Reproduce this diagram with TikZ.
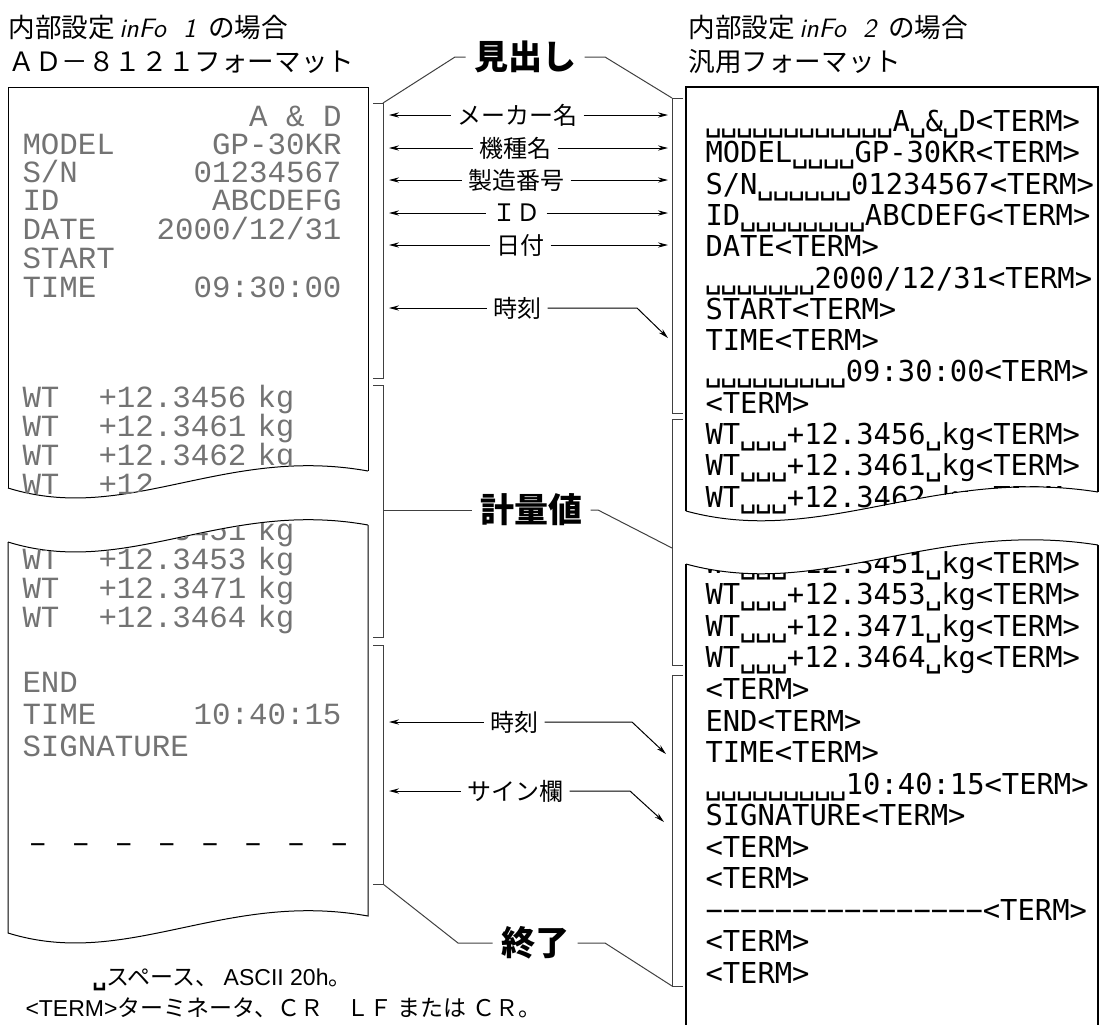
\documentclass[tikz,border=0pt]{standalone}
\usepackage{fontspec}
\newfontfamily\jp{Noto Sans CJK JP}
\newfontfamily\dotm{Liberation Mono}
\newfontfamily\gmono{DejaVu Sans Mono}
\newfontfamily\arial{Liberation Sans}
\usetikzlibrary{arrows.meta,positioning}
\newcommand\vs{\makebox[7.8pt]{\char"2423}}
\newcommand\dgap{\hspace{12.3pt}}

\begin{document}
\begin{tikzpicture}[>={Stealth[length=5pt,width=2.6pt]},x=0.5pt,y=-0.5pt,line width=0.5pt]
\tikzstyle{ttl}=[anchor=west,inner sep=0,font=\jp\fontsize{13.3}{16}\selectfont]
\tikzstyle{dot}=[inner sep=0,text=black!55,text height=9pt,text depth=0pt,font=\dotm\fontsize{15.4}{18}\selectfont]
\tikzstyle{row}=[anchor=west,inner sep=0,text height=10.5pt,text depth=0pt,font=\gmono\fontsize{14.4}{17}\selectfont]
\tikzstyle{lbl}=[inner sep=3pt,font=\jp\fontsize{12}{14}\selectfont]
\tikzstyle{big}=[inner sep=4pt,font=\jp\bfseries\fontsize{17}{20}\selectfont]
\tikzstyle{brk}=[draw=black!75]
\tikzstyle{edge}=[line width=1.2pt]

\useasboundingbox (0,0) rectangle (1103,1025);

\node[ttl] (lt1) at (8,27) {内部設定\,{\sffamily\itshape inFo\ \ 1}\ \ の場合};
\node[ttl] (lt2) at (8,62) {ＡＤ－８１２１フォーマット};
\node[ttl] (rt1) at (688,27) {内部設定\,{\sffamily\itshape inFo\ \ 2}\ \ の場合};
\node[ttl] (rt2) at (688,62) {汎用フォーマット};

% AD-8121 paper
\draw (8,488) -- (8,87) -- (368,87) -- (368,471);
\draw (8,488) .. controls (127,525) and (224,445) .. (368,471);
\draw (8,542) .. controls (127,579) and (224,499) .. (368,525);
\draw (8,542) -- (8,933) .. controls (127,970) and (224,890) .. (368,916) -- (368,525);

\begin{scope}
\clip (8,87) -- (368,87) -- (368,471) .. controls (224,445) and (127,525) .. (8,488) -- cycle;
\node[dot,anchor=east] (a1) at (342,117) {A \& D};
\node[dot,anchor=west] (a2) at (22,145) {MODEL};
\node[dot,anchor=east] (a2v) at (342,145) {GP-30KR};
\node[dot,anchor=west] (a3) at (22,173) {S/N};
\node[dot,anchor=east] (a3v) at (342,173) {01234567};
\node[dot,anchor=west] (a4) at (22,201) {ID};
\node[dot,anchor=east] (a4v) at (342,201) {ABCDEFG};
\node[dot,anchor=west] (a5) at (22,230) {DATE};
\node[dot,anchor=east] (a5v) at (342,230) {2000/12/31};
\node[dot,anchor=west] (a6) at (22,259) {START};
\node[dot,anchor=west] (a7) at (22,288) {TIME};
\node[dot,anchor=east] (a7v) at (342,288) {09:30:00};
\node[dot,anchor=west] (w1) at (22,398) {WT};
\node[dot,anchor=west] (w1v) at (98,398) {+12.3456};
\node[dot,anchor=west] (w1u) at (257,398) {kg};
\node[dot,anchor=west] (w2) at (22,427) {WT};
\node[dot,anchor=west] (w2v) at (98,427) {+12.3461};
\node[dot,anchor=west] (w2u) at (257,427) {kg};
\node[dot,anchor=west] (w3) at (22,456) {WT};
\node[dot,anchor=west] (w3v) at (98,456) {+12.3462};
\node[dot,anchor=west] (w3u) at (257,456) {kg};
\node[dot,anchor=west] (w4) at (22,485) {WT};
\node[dot,anchor=west] (w4v) at (98,485) {+12.};
\end{scope}

\begin{scope}
\clip (8,542) .. controls (127,579) and (224,499) .. (368,525) -- (368,916) .. controls (224,890) and (127,970) .. (8,933) -- cycle;
\node[dot,anchor=west] (w5) at (22,531) {WT};
\node[dot,anchor=west] (w5v) at (98,531) {+12.3451};
\node[dot,anchor=west] (w5u) at (257,531) {kg};
\node[dot,anchor=west] (w6) at (22,560) {WT};
\node[dot,anchor=west] (w6v) at (98,560) {+12.3453};
\node[dot,anchor=west] (w6u) at (257,560) {kg};
\node[dot,anchor=west] (w7) at (22,589) {WT};
\node[dot,anchor=west] (w7v) at (98,589) {+12.3471};
\node[dot,anchor=west] (w7u) at (257,589) {kg};
\node[dot,anchor=west] (w8) at (22,618) {WT};
\node[dot,anchor=west] (w8v) at (98,618) {+12.3464};
\node[dot,anchor=west] (w8u) at (257,618) {kg};
\node[dot,anchor=west] (e1) at (22,683) {END};
\node[dot,anchor=west] (e2) at (22,715) {TIME};
\node[dot,anchor=east] (e2v) at (342,715) {10:40:15};
\node[dot,anchor=west] (e3) at (22,747) {SIGNATURE};
\node[dot,anchor=west,text=black] (e4) at (28,843) {–\dgap–\dgap–\dgap–\dgap–\dgap–\dgap–\dgap–};
\end{scope}

% general format paper
\draw[edge] (686,511) -- (686,87) -- (1098,87) -- (1098,492);
\draw (686,511) .. controls (822,548) and (933,466) .. (1098,492);
\draw (686,564) .. controls (822,601) and (933,519) .. (1098,545);
\draw[edge] (686,564) -- (686,1025);
\draw[edge] (1098,545) -- (1098,1025);

\begin{scope}
\clip (686,87) -- (1098,87) -- (1098,492) .. controls (933,466) and (822,548) .. (686,511) -- cycle;
\node[row] (r1) at (705,121) {\vs\vs\vs\vs\vs\vs\vs\vs\vs\vs\vs\vs A\vs\&\vs D<TERM>};
\node[row] (r2) at (705,152) {MODEL\vs\vs\vs\vs GP-30KR<TERM>};
\node[row] (r3) at (705,184) {S/N\vs\vs\vs\vs\vs\vs 01234567<TERM>};
\node[row] (r4) at (705,215) {ID\vs\vs\vs\vs\vs\vs\vs\vs ABCDEFG<TERM>};
\node[row] (r5) at (705,246) {DATE<TERM>};
\node[row] (r6) at (705,278) {\vs\vs\vs\vs\vs\vs\vs 2000/12/31<TERM>};
\node[row] (r7) at (705,309) {START<TERM>};
\node[row] (r8) at (705,340) {TIME<TERM>};
\node[row] (r9) at (705,371) {\vs\vs\vs\vs\vs\vs\vs\vs\vs 09:30:00<TERM>};
\node[row] (r10) at (705,403) {<TERM>};
\node[row] (r11) at (705,434) {WT\vs\vs\vs+12.3456\vs kg<TERM>};
\node[row] (r12) at (705,465) {WT\vs\vs\vs+12.3461\vs kg<TERM>};
\node[row] (r13) at (705,497) {WT\vs\vs\vs+12.3462\vs kg<TERM>};
\end{scope}

\begin{scope}
\clip (686,564) .. controls (822,601) and (933,519) .. (1098,545) -- (1098,1025) -- (686,1025) -- cycle;
\node[row] (s1) at (705,563) {WT\vs\vs\vs+12.3451\vs kg<TERM>};
\node[row] (s2) at (705,594) {WT\vs\vs\vs+12.3453\vs kg<TERM>};
\node[row] (s3) at (705,626) {WT\vs\vs\vs+12.3471\vs kg<TERM>};
\node[row] (s4) at (705,657) {WT\vs\vs\vs+12.3464\vs kg<TERM>};
\node[row] (s5) at (705,689) {<TERM>};
\node[row] (s6) at (705,721) {END<TERM>};
\node[row] (s7) at (705,752) {TIME<TERM>};
\node[row] (s8) at (705,784) {\vs\vs\vs\vs\vs\vs\vs\vs\vs 10:40:15<TERM>};
\node[row] (s9) at (705,815) {SIGNATURE<TERM>};
\node[row] (s10) at (705,847) {<TERM>};
\node[row] (s11) at (705,878) {<TERM>};
\node[row] (s12) at (705,910) {−−−−−−−−−−−−−−−−<TERM>};
\node[row] (s13) at (705,941) {<TERM>};
\node[row] (s14) at (705,973) {<TERM>};
\end{scope}

% brackets
\draw[brk] (373,103) -- (383,103) -- (383,378) -- (373,378);
\draw[brk] (373,385) -- (383,385) -- (383,637) -- (373,637);
\draw[brk] (373,645) -- (383,645) -- (383,884) -- (373,884);
\draw[brk] (683,98) -- (672,98) -- (672,413) -- (683,413);
\draw[brk] (683,419) -- (672,419) -- (672,665) -- (683,665);
\draw[brk] (683,675) -- (672,675) -- (672,986) -- (683,986);

\coordinate (lb) at (389,0);
\coordinate (rb) at (668,0);

\node[lbl] (mk) at (517,115) {メーカー名};
\node[lbl] (kn) at (515,148) {機種名};
\node[lbl] (sn) at (516,180) {製造番号};
\node[lbl] (id) at (516,213) {ＩＤ};
\node[lbl] (dt) at (520,245) {日付};
\node[lbl] (tm) at (517,308) {時刻};
\node[lbl] (te) at (514,722) {時刻};
\node[lbl] (sg) at (515,791) {サイン欄};

\draw[->] (mk.west) -- (mk.west -| lb);
\draw[->] (mk.east) -- (mk.east -| rb);
\draw[->] (kn.west) -- (kn.west -| lb);
\draw[->] (kn.east) -- (kn.east -| rb);
\draw[->] (sn.west) -- (sn.west -| lb);
\draw[->] (sn.east) -- (sn.east -| rb);
\draw[->] (id.west) -- (id.west -| lb);
\draw[->] (id.east) -- (id.east -| rb);
\draw[->] (dt.west) -- (dt.west -| lb);
\draw[->] (dt.east) -- (dt.east -| rb);
\draw[->] (tm.west) -- (tm.west -| lb);
\coordinate (tmk) at (637,308);
\coordinate (tmt) at (668,338);
\draw[->] (tm.east) -- (tmk) -- (tmt);
\draw[->] (te.west) -- (te.west -| lb);
\coordinate (tek) at (632,722);
\coordinate (tet) at (666,754);
\draw[->] (te.east) -- (tek) -- (tet);
\draw[->] (sg.west) -- (sg.west -| lb);
\coordinate (sgk) at (630,791);
\coordinate (sgt) at (664,822);
\draw[->] (sg.east) -- (sgk) -- (sgt);

\node[big] (hd) at (525,57) {見出し};
\coordinate (hdL) at (383,103);
\coordinate (hdLk) at (455,57);
\coordinate (hdRk) at (605,57);
\coordinate (hdR) at (672,98);
\draw[brk] (hdL) -- (hdLk) -- (hd.west);
\draw[brk] (hd.east) -- (hdRk) -- (hdR);

\node[big] (ms) at (531,510) {計量値};
\coordinate (msL) at (383,511);
\coordinate (msRk) at (598,510);
\coordinate (msR) at (672,548);
\draw[brk] (ms.west) -- (ms.west -| msL);
\draw[brk] (ms.east) -- (msRk) -- (msR);

\node[big] (en) at (535,943) {終了};
\coordinate (enL) at (383,884);
\coordinate (enLk) at (458,943);
\coordinate (enRk) at (605,943);
\coordinate (enR) at (672,986);
\draw[brk] (enL) -- (enLk) -- (en.west);
\draw[brk] (en.east) -- (enRk) -- (enR);

\node[anchor=west,inner sep=0,font=\jp\fontsize{11.5}{14}\selectfont] (fn1) at (92,980) {{\gmono\bfseries ␣}スペース、 {\arial ASCII 20h}。};
\node[anchor=west,inner sep=0,font=\jp\fontsize{11.5}{14}\selectfont] (fn2) at (25,1008) {{\arial <TERM>}ターミネータ、ＣＲ　ＬＦ または ＣＲ。};
\end{tikzpicture}
\end{document}
